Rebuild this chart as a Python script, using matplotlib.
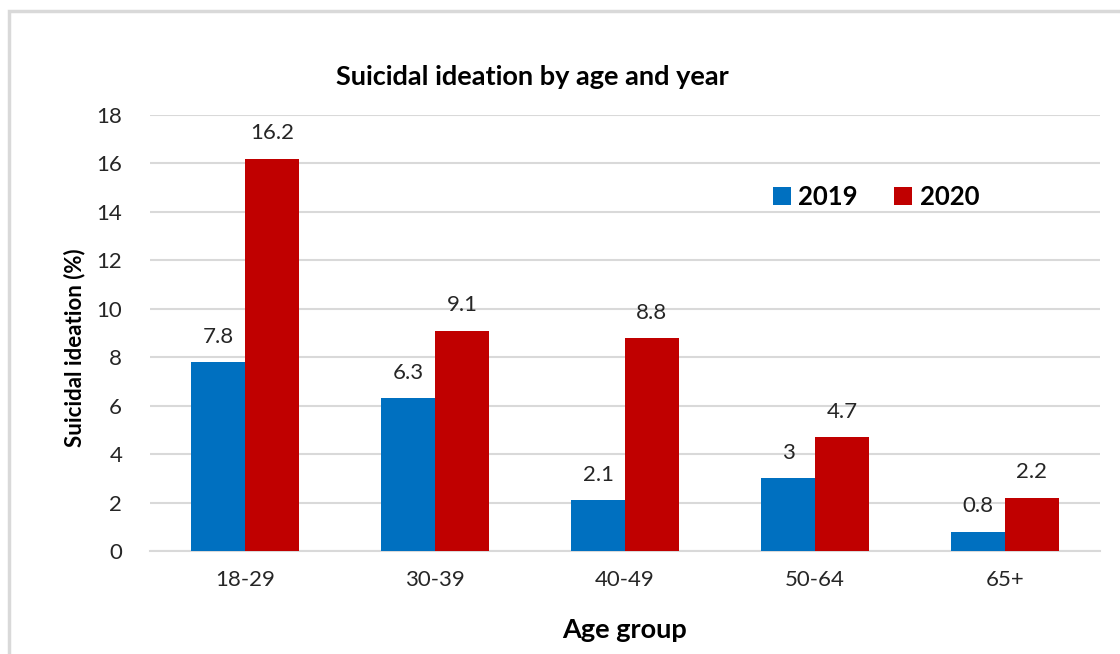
import numpy as np
import matplotlib.pyplot as plt
from matplotlib.patches import Rectangle

# data
age_groups = ['18-29', '30-39', '40-49', '50-64', '65+']
y2019 = [7.8, 6.3, 2.1, 3, 0.8]
y2020 = [16.2, 9.1, 8.8, 4.7, 2.2]
yticks = [0, 2, 4, 6, 8, 10, 12, 14, 16, 18]

plt.rcParams['font.family'] = ['Lato', 'DejaVu Sans']

fig = plt.figure(figsize=(11.2, 6.54), dpi=100)
ax = fig.add_axes([150 / 1120, 103 / 654, 950 / 1120, 436 / 654])

# chart-area border (runs off the right and bottom edges)
fig.patches.append(Rectangle((9 / 1120, -0.05), 1.2, (654 - 11) / 654 + 0.05,
                             transform=fig.transFigure, fill=False,
                             edgecolor='#d9d9d9', linewidth=2.5))

x = np.arange(len(age_groups))
w = 0.284
b1 = ax.bar(x - w / 2, y2019, w, color='#0070c0', label='2019', zorder=3)
b2 = ax.bar(x + w / 2, y2020, w, color='#c00000', label='2020', zorder=3)

for bars, vals in [(b1, y2019), (b2, y2020)]:
    for bar, v in zip(bars, vals):
        ax.annotate(f'{v:g}', (bar.get_x() + bar.get_width() / 2, v),
                    xytext=(0, 11), textcoords='offset points',
                    ha='center', va='bottom', fontsize=16, color='#262626')

ax.set_xlim(-0.5, len(age_groups) - 0.5)
ax.set_ylim(0, 18)
ax.set_yticks(yticks)
ax.set_xticks(x)
ax.set_xticklabels(age_groups)
ax.tick_params(length=0, labelsize=16, colors='#262626')
ax.tick_params(axis='x', pad=14)
ax.tick_params(axis='y', pad=20)
ax.grid(axis='y', color='#d9d9d9', linewidth=1.5, zorder=0)
for s in ['top', 'right', 'left']:
    ax.spines[s].set_visible(False)
ax.spines['bottom'].set_color('#d9d9d9')
ax.spines['bottom'].set_linewidth(1.5)

fig.text(532 / 1120, 1 - 77 / 654, 'Suicidal ideation by age and year',
         ha='center', va='center', fontsize=19.5, fontweight='bold', color='black')
fig.text(75 / 1120, 1 - 348 / 654, 'Suicidal ideation (%)', rotation=90,
         ha='center', va='center', fontsize=16, fontweight='bold', color='black')
fig.text(625 / 1120, 1 - 630 / 654, 'Age group',
         ha='center', va='center', fontsize=19.5, fontweight='bold', color='black')

leg = ax.legend(loc='center', bbox_to_anchor=(876 / 1120, 1 - 197 / 654),
                bbox_transform=fig.transFigure, ncol=2, frameon=False,
                prop={'size': 18.5, 'weight': 'bold'}, handlelength=0.7,
                handleheight=0.7, columnspacing=1.4, handletextpad=0.3)

fig.savefig('out.png', dpi=100)
